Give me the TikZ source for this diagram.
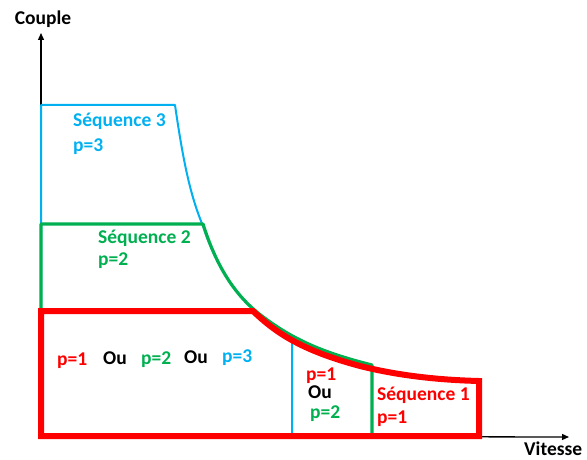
\documentclass[tikz,border=0pt]{standalone}
\usepackage{fontspec}
\setmainfont{Carlito}
\usetikzlibrary{arrows.meta}
\definecolor{cblue}{HTML}{00B0F0}
\definecolor{cgreen}{HTML}{00B050}
\definecolor{cred}{HTML}{FF0000}
\begin{document}
\begin{tikzpicture}[x=1pt,y=-1pt,
  lbl/.style={font=\fontsize{19.5}{23}\selectfont\bfseries, inner sep=0pt, anchor=base west},
  axis/.style={line width=1.3pt, -{Triangle[length=7pt,width=6pt]}},
  bluepath/.style={cblue, line width=2pt, line join=round},
  greenpath/.style={cgreen, line width=3.2pt, line join=round},
  redpath/.style={cred, line width=6pt, line join=miter}]
\useasboundingbox (0,0) rectangle (587,460);
% axes
\coordinate (O) at (41,436);
\coordinate (Ytip) at (41,33);
\coordinate (Xtip) at (569,437);
\draw[axis] (O) -- (Ytip);
\draw[axis] (O) -- (Xtip);
% blue (Sequence 3)
\draw[bluepath] (41,436) -- (41,105) -- (175,105)
  .. controls (183,160) and (190,195) .. (203,226)
  .. controls (215,262) and (232,292) .. (258,313)
  .. controls (275,326) and (285,334) .. (292,339)
  -- (292,436);
% green (Sequence 2)
\draw[greenpath] (41,436) -- (41,224) -- (203,224)
  .. controls (215,262) and (232,292) .. (258,313)
  .. controls (290,338) and (320,352) .. (372,365)
  -- (372,436);
% red (Sequence 1)
\draw[redpath] (41,436) -- (41,311) -- (253,311)
  .. controls (275,332) and (300,350) .. (360,366)
  .. controls (400,376) and (440,380) .. (479,381)
  -- (479,436) -- cycle;
% labels
\node[lbl, anchor=base] (couple) at (43,25) {Couple};
\node[lbl] (vitesse) at (524,455) {Vitesse};
\node[lbl, cblue] (s3) at (73,127) {Séquence 3};
\node[lbl, cblue] (p3) at (73,151) {p=3};
\node[lbl, cgreen] (s2) at (98,243) {Séquence 2};
\node[lbl, cgreen] (p2) at (98,265) {p=2};
\node[lbl, cred] (a1) at (57,365) {p=1};
\node[lbl] (ou1) at (103,364) {Ou};
\node[lbl, cgreen] (a2) at (141,364) {p=2};
\node[lbl] (ou2) at (184,363) {Ou};
\node[lbl, cblue] (a3) at (222,362) {p=3};
\node[lbl, cred] (b1) at (306,380) {p=1};
\node[lbl] (ou3) at (308,398) {Ou};
\node[lbl, cgreen] (b2) at (310,418) {p=2};
\node[lbl, cred] (s1) at (377,400) {Séquence 1};
\node[lbl, cred] (c1) at (377,423) {p=1};
\end{tikzpicture}
\end{document}
